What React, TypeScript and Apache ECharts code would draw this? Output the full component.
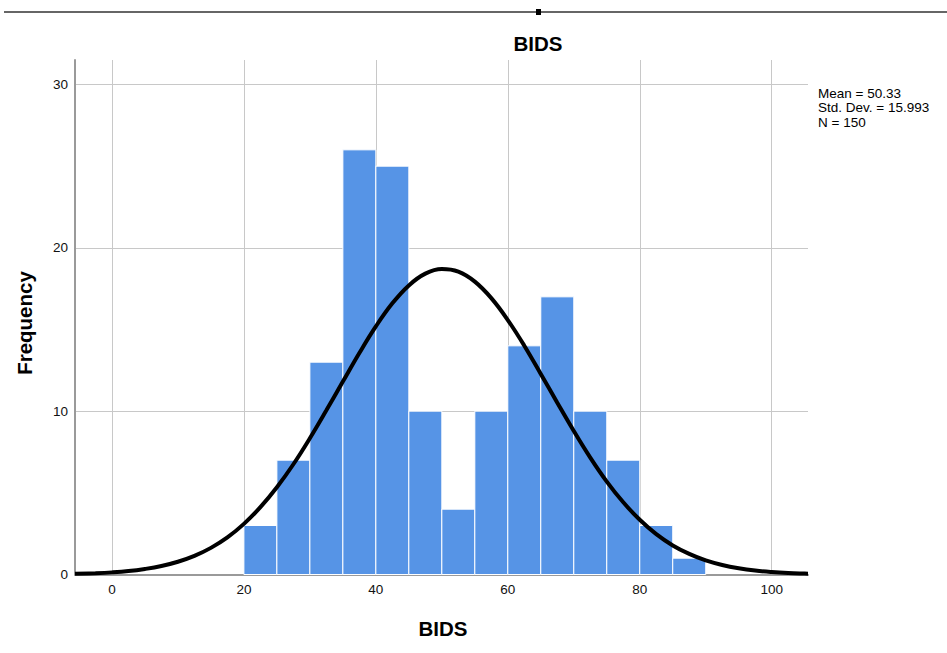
import React, { useEffect, useRef } from "react";
import * as echarts from "echarts";

// Histogram bins (BIDS)
const binStarts = [20, 25, 30, 35, 40, 45, 50, 55, 60, 65, 70, 75, 80, 85];
const binEnds = [25, 30, 35, 40, 45, 50, 55, 60, 65, 70, 75, 80, 85, 90];
const frequencies = [3, 7, 13, 26, 25, 10, 4, 10, 14, 17, 10, 7, 3, 1];

// Normal curve
const curveX = [
  -5.6, -2.5, 0, 2.5, 5, 7.5, 10, 12.5, 15, 17.5, 20, 22.5, 25, 27.5, 30, 32.5, 35, 37.5, 40, 42.5, 45, 47.5, 50,
  52.5, 55, 57.5, 60, 62.5, 65, 67.5, 70, 72.5, 75, 77.5, 80, 82.5, 85, 87.5, 90, 92.5, 95, 97.5, 100, 102.5, 105, 105.5,
];
const curveY = [
  0.04, 0.08, 0.13, 0.21, 0.34, 0.52, 0.78, 1.14, 1.63, 2.27, 3.1, 4.12, 5.34, 6.75, 8.34, 10.05, 11.81, 13.56, 15.19,
  16.6, 17.7, 18.42, 18.7, 18.54, 17.93, 16.92, 15.58, 14.01, 12.28, 10.52, 8.79, 7.16, 5.69, 4.42, 3.35, 2.47, 1.78,
  1.26, 0.86, 0.58, 0.38, 0.24, 0.15, 0.09, 0.054, 0.05,
];

const statsLines = ["Mean = 50.33", "Std. Dev. = 15.993", "N = 150"];
const chartTitle = "BIDS";
const xTitle = "BIDS";
const yTitle = "Frequency";

const FONT = '"Liberation Sans", Arial, Helvetica, sans-serif';

export default function App() {
  const ref = useRef<HTMLDivElement>(null);
  useEffect(() => {
    document.body.style.margin = "0";
    const chart = echarts.init(ref.current as HTMLDivElement, null, { renderer: "svg" });
    chart.setOption({
      animation: false,
      backgroundColor: "#ffffff",
      grid: { left: 75, right: 139, top: 60, bottom: 78.5, containLabel: false },
      xAxis: {
        type: "value",
        min: -5.6,
        max: 105.5,
        splitNumber: 5,
        axisLine: { show: true, onZero: false, lineStyle: { color: "#9a9a9a", width: 2 } },
        axisTick: { show: false },
        axisLabel: {
          color: "#111",
          fontFamily: FONT,
          fontSize: 13.5,
          margin: 8,
          formatter: (v: number) => (Math.abs(v % 20) < 1e-9 ? String(v) : ""),
        },
        splitLine: { show: true, showMinLine: false, showMaxLine: false, lineStyle: { color: "#c8c8c8", width: 1 } },
      },
      yAxis: {
        type: "value",
        min: 0,
        max: 31.5,
        interval: 10,
        axisLine: { show: true, onZero: false, lineStyle: { color: "#9a9a9a", width: 2 } },
        axisTick: { show: false },
        axisLabel: {
          color: "#111",
          fontFamily: FONT,
          fontSize: 13.5,
          margin: 7,
          formatter: (v: number) => (Math.abs(v % 10) < 1e-9 ? String(v) : ""),
        },
        splitLine: { show: true, showMinLine: false, showMaxLine: false, lineStyle: { color: "#c8c8c8", width: 1 } },
      },
      series: [
        {
          type: "custom",
          data: frequencies.map((f, i) => [binStarts[i], binEnds[i], f]),
          encode: { x: [0, 1], y: 2 },
          z: 2,
          renderItem: (params: any, api: any) => {
            const p0 = api.coord([api.value(0), 0]);
            const p1 = api.coord([api.value(1), api.value(2)]);
            return {
              type: "rect",
              shape: { x: p0[0], y: p1[1], width: p1[0] - p0[0], height: p0[1] - p1[1] },
              style: { fill: "#5694e6", stroke: "#ffffff", lineWidth: 1 },
            };
          },
        },
        {
          type: "line",
          data: curveX.map((x, i) => [x, curveY[i]]),
          smooth: 0.4,
          symbol: "none",
          z: 5,
          lineStyle: { color: "#000000", width: 4 },
        },
      ],
      graphic: [
        { type: "line", shape: { x1: 4, y1: 12, x2: 947, y2: 12 }, style: { stroke: "#333", lineWidth: 1.5 } },
        { type: "rect", shape: { x: 536, y: 9, width: 5, height: 6 }, style: { fill: "#000" } },
        {
          type: "text",
          x: 538,
          y: 43,
          style: { text: chartTitle, font: `bold 20.5px ${FONT}`, fill: "#000", align: "center", verticalAlign: "middle" },
        },
        {
          type: "text",
          x: 443,
          y: 628,
          style: { text: xTitle, font: `bold 20.5px ${FONT}`, fill: "#000", align: "center", verticalAlign: "middle" },
        },
        {
          type: "text",
          x: 24,
          y: 323,
          rotation: Math.PI / 2,
          style: { text: yTitle, font: `bold 20.5px ${FONT}`, fill: "#000", align: "center", verticalAlign: "middle" },
        },
        ...statsLines.map((t, i) => ({
          type: "text",
          x: 818,
          y: 93 + i * 14.5,
          style: { text: t, font: `13.5px ${FONT}`, fill: "#000", align: "left", verticalAlign: "middle" },
        })),
      ],
    });
    return () => chart.dispose();
  }, []);
  return <div ref={ref} style={{ width: 947, height: 653 }} />;
}
